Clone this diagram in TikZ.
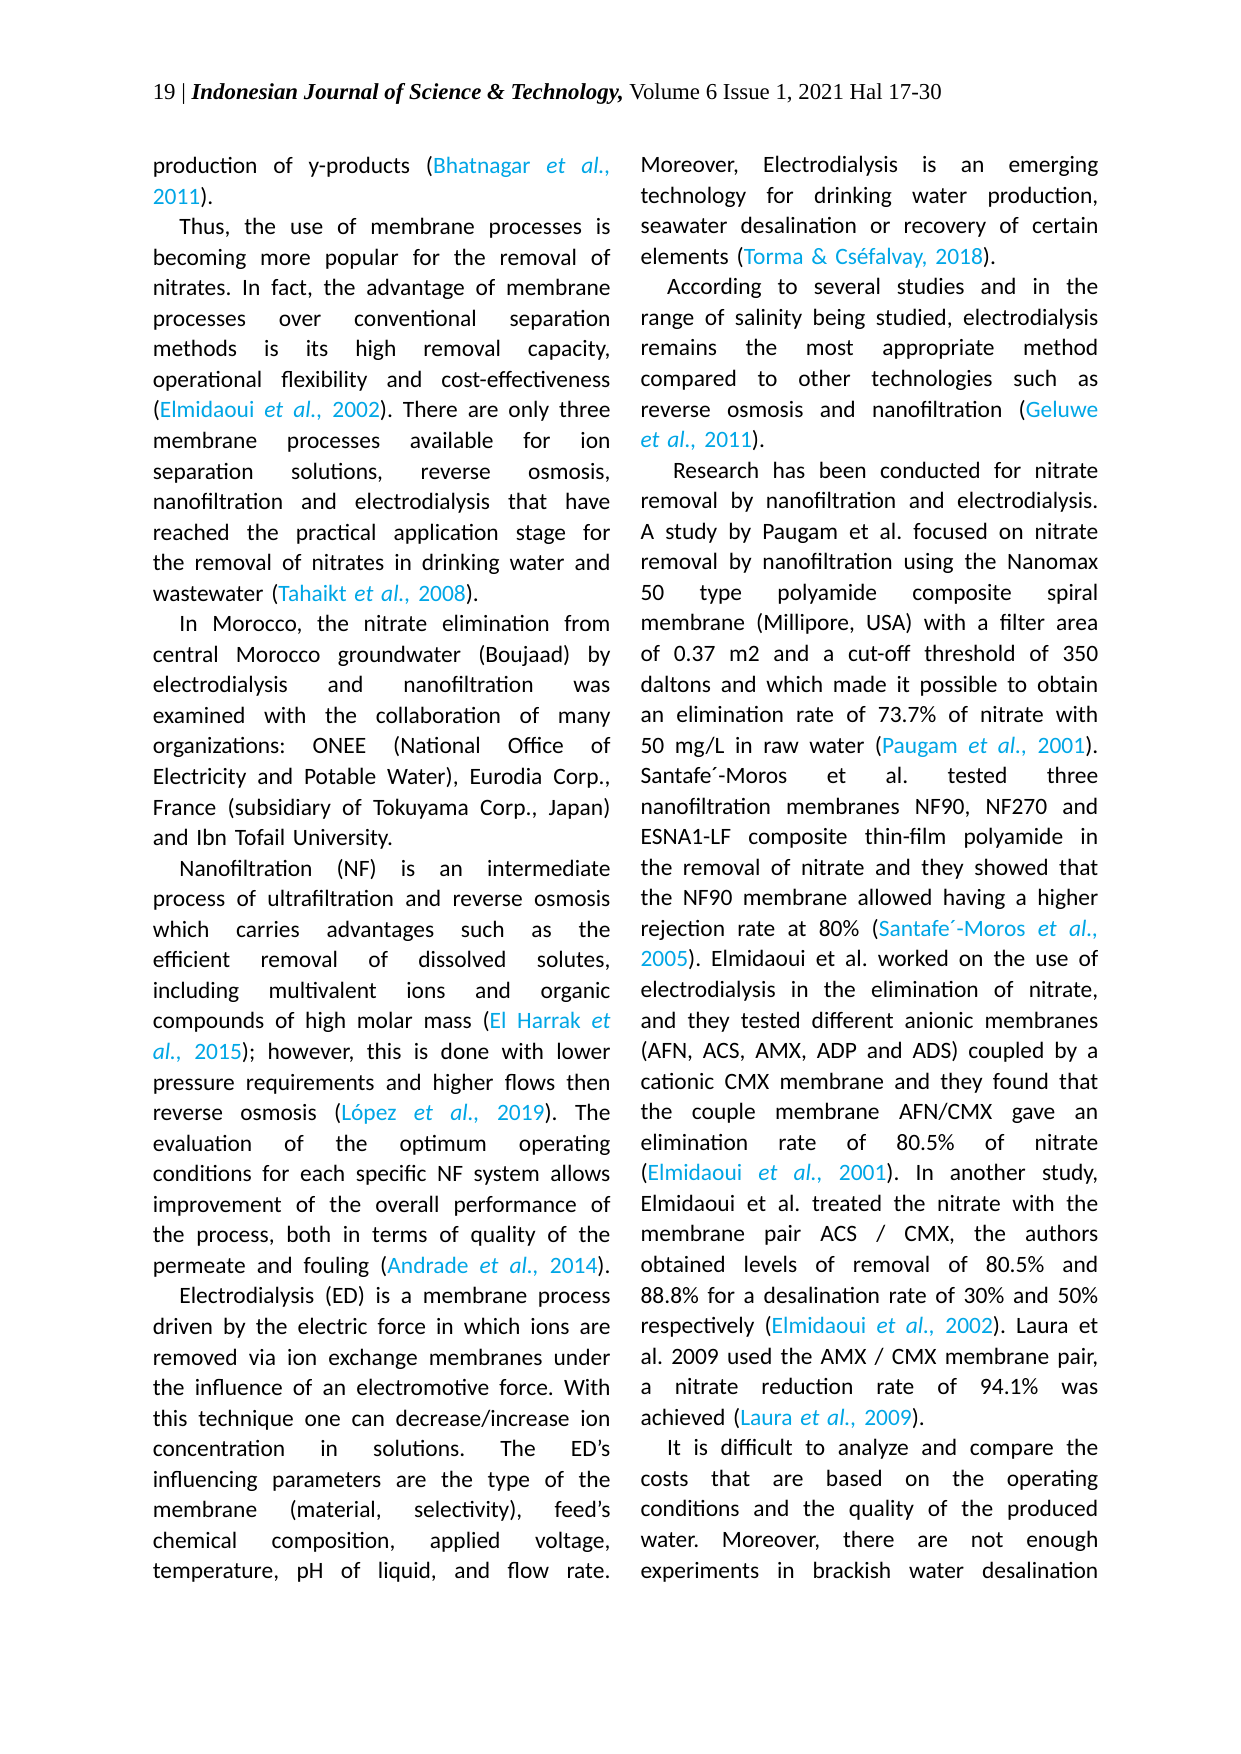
\documentclass[tikz,border=0pt]{standalone}
\usepackage{fontspec}
\setmainfont{Carlito}
\newfontfamily\hdr{Liberation Serif}
\definecolor{cit}{RGB}{0,166,230}
\newcommand{\cit}[1]{\textcolor{cit}{#1}}
\newcommand{\ea}{\textit{et al.,}}
\newlength{\colw}\setlength{\colw}{7.75cm}
\newcommand{\jset}{\frenchspacing\parindent=0pt\leftskip=0pt\rightskip=0pt\parfillskip=0pt\spaceskip=0.25em plus 2em minus 0.05em\relax}
\newcommand{\Jl}[1]{\parbox[t]{\colw}{\jset #1}\\}
\newcommand{\Ji}[1]{\parbox[t]{\colw}{\jset\hspace*{0.45cm}#1}\\}
\newcommand{\Ll}[1]{\makebox[\colw][l]{\frenchspacing #1}\\}
\tikzset{col/.style={anchor=north west,inner sep=0pt,text width=\colw,align=left,font=\fontsize{11.3}{14.72}\selectfont}}
\begin{document}
\begin{tikzpicture}
\useasboundingbox[fill=white] (0,0) rectangle (21,-29.7);
\node[anchor=base west,inner sep=0pt,font=\hdr\fontsize{11}{13}\selectfont] (hd) at (2.58,-1.68)
 {19 | \textbf{\textit{Indonesian Journal of Science \& Technology,}} Volume 6 Issue 1, 2021 Hal 17-30};
\node[col] (left) at (2.58,-2.64) {%
\Jl{production of y-products (\cit{Bhatnagar \ea}}
\Ll{\cit{2011}).}
\Ji{Thus, the use of membrane processes is}
\Jl{becoming more popular for the removal of}
\Jl{nitrates. In fact, the advantage of membrane}
\Jl{processes over conventional separation}
\Jl{methods is its high removal capacity,}
\Jl{operational flexibility and cost-effectiveness}
\Jl{(\cit{Elmidaoui \ea{} 2002}). There are only three}
\Jl{membrane processes available for ion}
\Jl{separation solutions, reverse osmosis,}
\Jl{nanofiltration and electrodialysis that have}
\Jl{reached the practical application stage for}
\Jl{the removal of nitrates in drinking water and}
\Ll{wastewater (\cit{Tahaikt \ea{} 2008}).}
\Ji{In Morocco, the nitrate elimination from}
\Jl{central Morocco groundwater (Boujaad) by}
\Jl{electrodialysis and nanofiltration was}
\Jl{examined with the collaboration of many}
\Jl{organizations: ONEE (National Office of}
\Jl{Electricity and Potable Water), Eurodia Corp.,}
\Jl{France (subsidiary of Tokuyama Corp., Japan)}
\Ll{and Ibn Tofail University.}
\Ji{Nanofiltration (NF) is an intermediate}
\Jl{process of ultrafiltration and reverse osmosis}
\Jl{which carries advantages such as the}
\Jl{efficient removal of dissolved solutes,}
\Jl{including multivalent ions and organic}
\Jl{compounds of high molar mass (\cit{El Harrak \textit{et}}}
\Jl{\cit{\textit{al.,} 2015}); however, this is done with lower}
\Jl{pressure requirements and higher flows then}
\Jl{reverse osmosis (\cit{López \ea{} 2019}). The}
\Jl{evaluation of the optimum operating}
\Jl{conditions for each specific NF system allows}
\Jl{improvement of the overall performance of}
\Jl{the process, both in terms of quality of the}
\Jl{permeate and fouling (\cit{Andrade \ea{} 2014}).}
\Ji{Electrodialysis (ED) is a membrane process}
\Jl{driven by the electric force in which ions are}
\Jl{removed via ion exchange membranes under}
\Jl{the influence of an electromotive force. With}
\Jl{this technique one can decrease/increase ion}
\Jl{concentration in solutions. The ED’s}
\Jl{influencing parameters are the type of the}
\Jl{membrane (material, selectivity), feed’s}
\Jl{chemical composition, applied voltage,}
\parbox[t]{\colw}{\jset temperature, pH of liquid, and flow rate.}};
\node[col] (right) at (10.84,-2.64) {%
\Jl{Moreover, Electrodialysis is an emerging}
\Jl{technology for drinking water production,}
\Jl{seawater desalination or recovery of certain}
\Ll{elements (\cit{Torma \& Cséfalvay, 2018}).}
\Ji{According to several studies and in the}
\Jl{range of salinity being studied, electrodialysis}
\Jl{remains the most appropriate method}
\Jl{compared to other technologies such as}
\Jl{reverse osmosis and nanofiltration (\cit{Geluwe}}
\Ll{\cit{\textit{et al.,} 2011}).}
\Ji{\hspace*{0.1cm}Research has been conducted for nitrate}
\Jl{removal by nanofiltration and electrodialysis.}
\Jl{A study by Paugam et al. focused on nitrate}
\Jl{removal by nanofiltration using the Nanomax}
\Jl{50 type polyamide composite spiral}
\Jl{membrane (Millipore, USA) with a filter area}
\Jl{of 0.37 m2 and a cut-off threshold of 350}
\Jl{daltons and which made it possible to obtain}
\Jl{an elimination rate of 73.7\% of nitrate with}
\Jl{50 mg/L in raw water (\cit{Paugam \ea{} 2001}).}
\Jl{Santafe´-Moros et al. tested three}
\Jl{nanofiltration membranes NF90, NF270 and}
\Jl{ESNA1-LF composite thin-film polyamide in}
\Jl{the removal of nitrate and they showed that}
\Jl{the NF90 membrane allowed having a higher}
\Jl{rejection rate at 80\% (\cit{Santafe´-Moros \ea}}
\Jl{\cit{2005}). Elmidaoui et al. worked on the use of}
\Jl{electrodialysis in the elimination of nitrate,}
\Jl{and they tested different anionic membranes}
\Jl{(AFN, ACS, AMX, ADP and ADS) coupled by a}
\Jl{cationic CMX membrane and they found that}
\Jl{the couple membrane AFN/CMX gave an}
\Jl{elimination rate of 80.5\% of nitrate}
\Jl{(\cit{Elmidaoui \ea{} 2001}). In another study,}
\Jl{Elmidaoui et al. treated the nitrate with the}
\Jl{membrane pair ACS / CMX, the authors}
\Jl{obtained levels of removal of 80.5\% and}
\Jl{88.8\% for a desalination rate of 30\% and 50\%}
\Jl{respectively (\cit{Elmidaoui \ea{} 2002}). Laura et}
\Jl{al. 2009 used the AMX / CMX membrane pair,}
\Jl{a nitrate reduction rate of 94.1\% was}
\Ll{achieved (\cit{Laura \ea{} 2009}).}
\Ji{It is difficult to analyze and compare the}
\Jl{costs that are based on the operating}
\Jl{conditions and the quality of the produced}
\Jl{water. Moreover, there are not enough}
\parbox[t]{\colw}{\jset experiments in brackish water desalination}};
\end{tikzpicture}
\end{document}
